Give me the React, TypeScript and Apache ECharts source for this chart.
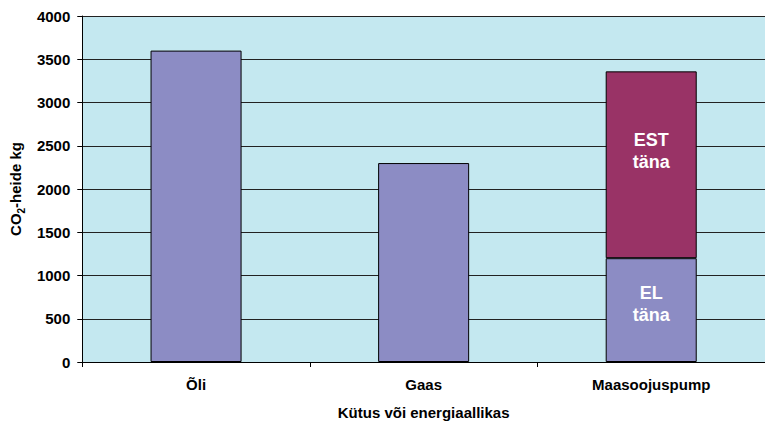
import React, { useEffect, useRef } from "react";
import * as echarts from "echarts";

const categories = ["Õli", "Gaas", "Maasoojuspump"];
const baseValues = [3600, 2300, 1200];
const estValues: (number | null)[] = [null, null, 2160];
const yTicks = [0, 500, 1000, 1500, 2000, 2500, 3000, 3500, 4000];
const baseLabels = ["", "", "EL\ntäna"];
const estLabels = ["", "", "EST\ntäna"];

export default function App() {
  const ref = useRef<HTMLDivElement>(null);
  useEffect(() => {
    if (!ref.current) return;
    const chart = echarts.init(ref.current, undefined, { renderer: "svg" });
    const font = "Liberation Sans, Arial, sans-serif";
    chart.setOption({
      animation: false,
      backgroundColor: "#ffffff",
      grid: {
        left: 82,
        top: 16,
        width: 689,
        height: 348,
        show: true,
        backgroundColor: "#C4E8F0",
        borderWidth: 0,
      },
      xAxis: {
        type: "category",
        data: categories,
        name: "Kütus või energiaallikas",
        nameLocation: "middle",
        nameGap: 43,
        nameTextStyle: { fontFamily: font, fontWeight: "bold", fontSize: 15, color: "#000" },
        axisLine: { lineStyle: { color: "#000", width: 1 } },
        axisTick: { show: true, length: 5, lineStyle: { color: "#000" }, alignWithLabel: false },
        axisLabel: { fontFamily: font, fontWeight: "bold", fontSize: 15, color: "#000", margin: 15 },
      },
      yAxis: {
        type: "value",
        min: yTicks[0],
        max: yTicks[yTicks.length - 1],
        interval: 500,
        name: "{a|CO}{s|2}{a|-heide kg}",
        nameLocation: "middle",
        nameRotate: 90,
        nameGap: 55,
        nameTextStyle: {
          rich: {
            a: { fontFamily: font, fontWeight: "bold", fontSize: 15, color: "#000", lineHeight: 18, verticalAlign: "bottom" },
            s: { fontFamily: font, fontWeight: "bold", fontSize: 10, color: "#000", lineHeight: 18, verticalAlign: "bottom", padding: [0, 0, -3, 0] },
          },
        },
        axisLine: { show: true, lineStyle: { color: "#000", width: 1 } },
        axisTick: { show: true, length: 5, lineStyle: { color: "#000" } },
        axisLabel: {
          fontFamily: font,
          fontWeight: "bold",
          fontSize: 15,
          color: "#000",
          margin: 12,
          formatter: (v: number) => String(v),
        },
        splitLine: { show: true, lineStyle: { color: "#222", width: 1 } },
      },
      series: [
        {
          type: "bar",
          stack: "total",
          barWidth: "40%",
          itemStyle: { color: "#8C8CC4", borderColor: "#000", borderWidth: 1 },
          data: baseValues.map((v, i) => ({
            value: v,
            label: {
              show: baseLabels[i] !== "",
              formatter: baseLabels[i],
              position: "inside",
              offset: [0, -6],
              color: "#fff",
              fontFamily: font,
              fontWeight: "bold",
              fontSize: 18,
              lineHeight: 22,
            },
          })),
        },
        {
          type: "bar",
          stack: "total",
          barWidth: "40%",
          itemStyle: { color: "#993366", borderColor: "#000", borderWidth: 1 },
          data: estValues.map((v, i) => ({
            value: v == null ? "-" : v,
            label: {
              show: estLabels[i] !== "",
              formatter: estLabels[i],
              position: "inside",
              offset: [0, -14],
              color: "#fff",
              fontFamily: font,
              fontWeight: "bold",
              fontSize: 18,
              lineHeight: 22,
            },
          })),
        },
      ],
    });
    return () => chart.dispose();
  }, []);
  return <div ref={ref} style={{ width: 765, height: 425, position: "absolute", left: 0, top: 0 }} />;
}
